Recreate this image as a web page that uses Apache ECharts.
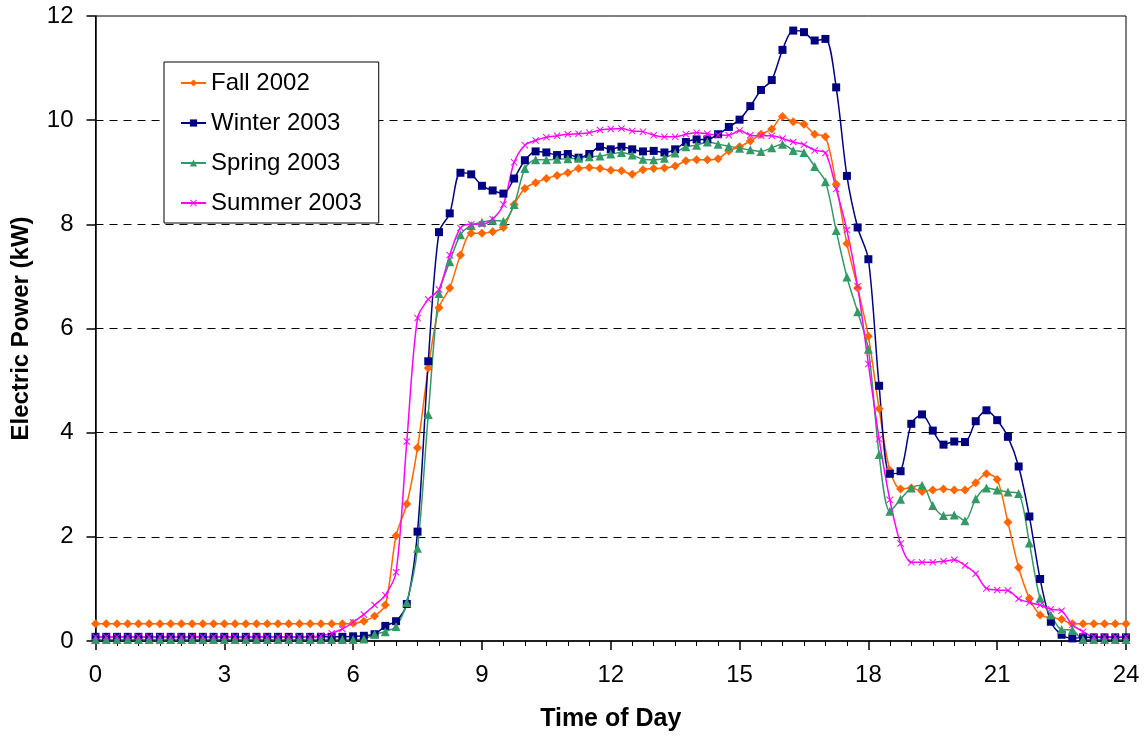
<!DOCTYPE html>
<html>
<head>
<meta charset="utf-8">
<title>Electric Power by Season</title>
<script src="https://cdn.jsdelivr.net/npm/echarts@6/dist/echarts.min.js"></script>
<style>
  html, body { margin: 0; padding: 0; background: #fff; }
  #chart { width: 1148px; height: 740px; }
</style>
</head>
<body>
<div id="chart"></div>
<script>
// readings every 15 minutes, 0:00 .. 24:00 (97 points)
const STEP = 0.25;

const fall2002 = [
  0.33, 0.33, 0.33, 0.33, 0.33, 0.33, 0.33, 0.33, 0.33, 0.33, 0.33, 0.33,
  0.33, 0.33, 0.33, 0.33, 0.33, 0.33, 0.33, 0.33, 0.33, 0.33, 0.33, 0.33,
  0.34, 0.38, 0.48, 0.69, 2.02, 2.63, 3.71, 5.24, 6.40, 6.78, 7.41, 7.83,
  7.83, 7.86, 7.94, 8.38, 8.69, 8.80, 8.88, 8.94, 8.99, 9.07, 9.09, 9.07,
  9.04, 9.03, 8.96, 9.05, 9.07, 9.08, 9.12, 9.22, 9.24, 9.24, 9.26, 9.41,
  9.49, 9.60, 9.73, 9.83, 10.07, 9.97, 9.92, 9.73, 9.68, 8.77, 7.63, 6.78,
  5.85, 4.46, 3.28, 2.92, 2.94, 2.87, 2.90, 2.92, 2.90, 2.90, 3.04, 3.21,
  3.10, 2.28, 1.41, 0.82, 0.50, 0.45, 0.42, 0.33, 0.33, 0.33, 0.33, 0.33,
  0.33
];

const winter2003 = [
  0.08, 0.08, 0.08, 0.08, 0.08, 0.08, 0.08, 0.08, 0.08, 0.08, 0.08, 0.08,
  0.08, 0.08, 0.08, 0.08, 0.08, 0.08, 0.08, 0.08, 0.08, 0.08, 0.08, 0.08,
  0.09, 0.10, 0.13, 0.29, 0.38, 0.71, 2.10, 5.37, 7.85, 8.21, 8.99, 8.96,
  8.74, 8.65, 8.59, 8.88, 9.23, 9.40, 9.38, 9.33, 9.35, 9.28, 9.35, 9.49,
  9.44, 9.49, 9.44, 9.40, 9.41, 9.38, 9.44, 9.58, 9.63, 9.63, 9.73, 9.87,
  10.01, 10.27, 10.58, 10.77, 11.35, 11.72, 11.69, 11.53, 11.56, 10.63, 8.93, 7.94,
  7.33, 4.90, 3.21, 3.26, 4.17, 4.35, 4.04, 3.77, 3.83, 3.82, 4.22, 4.43,
  4.24, 3.92, 3.35, 2.39, 1.19, 0.37, 0.12, 0.05, 0.07, 0.07, 0.07, 0.07,
  0.07
];

const spring2003 = [
  0.03, 0.03, 0.03, 0.03, 0.03, 0.03, 0.03, 0.03, 0.03, 0.03, 0.03, 0.03,
  0.03, 0.03, 0.03, 0.03, 0.03, 0.03, 0.03, 0.03, 0.03, 0.03, 0.03, 0.03,
  0.03, 0.04, 0.13, 0.18, 0.28, 0.74, 1.78, 4.35, 6.67, 7.28, 7.80, 7.98,
  8.04, 8.08, 8.06, 8.38, 9.07, 9.24, 9.24, 9.25, 9.26, 9.27, 9.30, 9.31,
  9.35, 9.38, 9.33, 9.25, 9.24, 9.27, 9.37, 9.49, 9.52, 9.58, 9.54, 9.50,
  9.46, 9.43, 9.40, 9.47, 9.54, 9.42, 9.38, 9.11, 8.82, 7.88, 6.99, 6.32,
  5.60, 3.58, 2.49, 2.72, 2.94, 2.99, 2.60, 2.41, 2.42, 2.31, 2.73, 2.94,
  2.90, 2.86, 2.83, 1.88, 0.82, 0.50, 0.22, 0.21, 0.03, 0.03, 0.03, 0.03,
  0.03
];

const summer2003 = [
  0.08, 0.08, 0.08, 0.08, 0.08, 0.08, 0.08, 0.08, 0.08, 0.08, 0.08, 0.08,
  0.08, 0.08, 0.08, 0.08, 0.08, 0.08, 0.08, 0.08, 0.08, 0.10, 0.15, 0.23,
  0.36, 0.51, 0.69, 0.88, 1.32, 3.83, 6.20, 6.56, 6.75, 7.41, 7.93, 8.00,
  8.00, 8.10, 8.38, 9.19, 9.52, 9.61, 9.67, 9.70, 9.73, 9.74, 9.76, 9.81,
  9.83, 9.84, 9.79, 9.78, 9.71, 9.68, 9.68, 9.73, 9.76, 9.74, 9.71, 9.71,
  9.80, 9.71, 9.70, 9.70, 9.65, 9.58, 9.53, 9.42, 9.37, 8.68, 7.89, 6.81,
  5.32, 3.88, 2.71, 1.87, 1.51, 1.51, 1.51, 1.53, 1.56, 1.45, 1.29, 1.01,
  0.98, 0.97, 0.81, 0.74, 0.69, 0.61, 0.58, 0.31, 0.18, 0.08, 0.08, 0.08,
  0.08
];

const xTicks = [0, 3, 6, 9, 12, 15, 18, 21, 24];
const yTicks = [0, 2, 4, 6, 8, 10, 12];

const seriesNames = ["Fall 2002", "Winter 2003", "Spring 2003", "Summer 2003"];

const FONT = "'Liberation Sans', Arial, sans-serif";
const xMark = "path://M0,1 L1,0 L5,4 L9,0 L10,1 L6,5 L10,9 L9,10 L5,6 L1,10 L0,9 L4,5 Z";

function toPoints(values) {
  return values.map((v, i) => [i * STEP, v]);
}

function makeSeries(name, values, color, symbol, size) {
  return {
    name: name,
    type: "line",
    data: toPoints(values),
    smooth: 0.3,
    symbol: symbol,
    symbolSize: size,
    showAllSymbol: true,
    lineStyle: { color: color, width: 1.5 },
    itemStyle: { color: color },
    emphasis: { disabled: true },
  };
}

const chart = echarts.init(document.getElementById("chart"));

chart.setOption({
  animation: false,
  grid: {
    left: 95.5,
    right: 22,
    top: 16,
    bottom: 99,
    show: true,
    borderColor: "#000",
    borderWidth: 1,
  },
  legend: {
    orient: "vertical",
    left: 164,
    top: 62,
    data: seriesNames,
    backgroundColor: "#fff",
    borderColor: "#000",
    borderWidth: 1,
    padding: [9, 17, 8, 16],
    itemWidth: 25,
    itemHeight: 9,
    itemGap: 16,
    textStyle: {
      fontFamily: FONT,
      fontSize: 24,
      lineHeight: 24,
      color: "#000",
    },
  },
  xAxis: {
    type: "value",
    min: xTicks[0],
    max: xTicks[xTicks.length - 1],
    interval: xTicks[1] - xTicks[0],
    name: "Time of Day",
    nameLocation: "middle",
    nameGap: 66,
    nameTextStyle: {
      fontFamily: FONT,
      fontSize: 25,
      fontWeight: "bold",
      color: "#000",
    },
    axisLine: { show: true, lineStyle: { color: "#000", width: 1.5 } },
    axisTick: { show: true, length: 9, lineStyle: { color: "#000", width: 1.5 } },
    minorTick: {
      show: true,
      splitNumber: 6,
      length: 5,
      lineStyle: { color: "#000", width: 1 },
    },
    axisLabel: {
      fontFamily: FONT,
      fontSize: 24,
      color: "#000",
      margin: 22,
    },
    splitLine: { show: false },
  },
  yAxis: {
    type: "value",
    min: yTicks[0],
    max: yTicks[yTicks.length - 1],
    interval: yTicks[1] - yTicks[0],
    name: "Electric Power (kW)",
    nameLocation: "middle",
    nameGap: 62,
    nameTextStyle: {
      fontFamily: FONT,
      fontSize: 24,
      fontWeight: "bold",
      color: "#000",
    },
    axisLine: { show: true, lineStyle: { color: "#000", width: 1.5 } },
    axisTick: { show: true, length: 9, lineStyle: { color: "#000", width: 1.5 } },
    axisLabel: {
      fontFamily: FONT,
      fontSize: 24,
      color: "#000",
      margin: 22,
    },
    splitLine: {
      show: true,
      showMinLine: false,
      showMaxLine: false,
      lineStyle: { color: "#000", type: [8, 6], width: 1 },
    },
  },
  series: [
    makeSeries(seriesNames[0], fall2002, "#FF6600", "diamond", 9),
    makeSeries(seriesNames[1], winter2003, "#000080", "rect", 8),
    makeSeries(seriesNames[2], spring2003, "#339966", "triangle", 9),
    makeSeries(seriesNames[3], summer2003, "#FF00FF", xMark, 7),
  ],
});
</script>
</body>
</html>
